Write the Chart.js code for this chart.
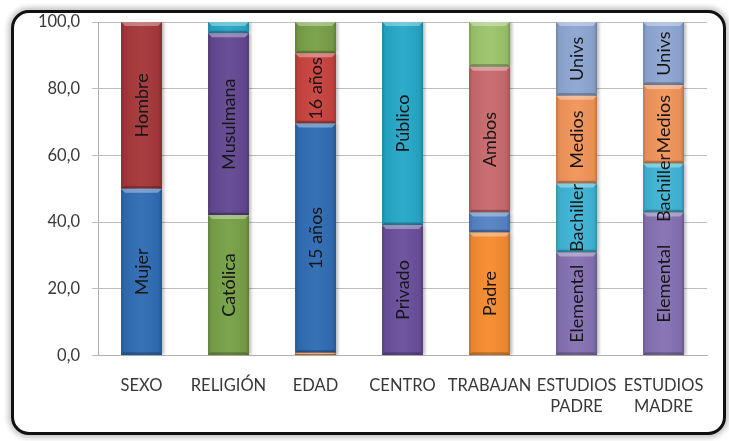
<!DOCTYPE html>
<html>
<head>
<meta charset="utf-8">
<script src="https://cdn.jsdelivr.net/npm/chart.js@4"></script>
<style>
  html, body { margin: 0; padding: 0; background: #fff; }
  #marco {
    position: absolute; left: 11px; top: 10px; width: 715px; height: 425px;
    box-sizing: border-box; border: 3px solid #111; border-radius: 18px;
    background: #fff; box-shadow: 0 0 5px 3px rgba(0,0,0,0.22);
  }
  #grafico { position: absolute; left: 0; top: 0; }
</style>
</head>
<body>
<div id="marco"></div>
<canvas id="grafico" width="729" height="441"></canvas>
<script>
// categorias del eje x
var categorias = ['SEXO', 'RELIGIÓN', 'EDAD', 'CENTRO', 'TRABAJAN', ['ESTUDIOS', 'PADRE'], ['ESTUDIOS', 'MADRE']];

// porcentajes por tramo, de abajo hacia arriba
var tramo1 = [50.0, 42.1, 0.8, 39.1, 36.9, 30.9, 42.9];
var tramo2 = [50.0, 54.5, 68.8, 60.9, 6.0, 20.7, 14.7];
var tramo3 = [0, 3.4, 21.0, 0, 43.7, 26.3, 23.5];
var tramo4 = [0, 0, 9.4, 0, 13.4, 22.1, 18.9];

// textos dentro de cada tramo
var etiq1 = ['Mujer', 'Católica', '', 'Privado', 'Padre', 'Elemental', 'Elemental'];
var etiq2 = ['Hombre', 'Musulmana', '15 años', 'Público', '', 'Bachiller', 'Bachiller'];
var etiq3 = ['', '', '16 años', '', 'Ambos', 'Medios', 'Medios'];
var etiq4 = ['', '', '', '', '', 'Univs', 'Univs'];

var colores1 = ['#2f6cb4', '#77a046', '#e8772a', '#6a4f9c', '#f68c2f', '#8571b3', '#8571b3'];
var colores2 = ['#a5373a', '#634892', '#2f6cb4', '#25a8c8', '#5583c4', '#3fb5d6', '#3fb5d6'];
var colores3 = ['#fff', '#27a6c6', '#c9433e', '#fff', '#c86a6c', '#f2955a', '#f2955a'];
var colores4 = ['#fff', '#fff', '#77a046', '#fff', '#9cc46c', '#8ea6d2', '#8ea6d2'];

var etiquetas = [etiq1, etiq2, etiq3, etiq4];

// sombra suave a la derecha de las barras
var sombra = {
  id: 'sombra',
  beforeDatasetDraw: function(chart) {
    var ctx = chart.ctx;
    ctx.save();
    ctx.shadowColor = 'rgba(0,0,0,0.28)';
    ctx.shadowOffsetX = 2;
    ctx.shadowOffsetY = 0;
    ctx.shadowBlur = 3;
  },
  afterDatasetDraw: function(chart) {
    chart.ctx.restore();
  }
};

// relieve de cada tramo y texto girado
var relieve = {
  id: 'relieve',
  afterDatasetsDraw: function(chart) {
    var ctx = chart.ctx;
    chart.data.datasets.forEach(function(ds, d) {
      var meta = chart.getDatasetMeta(d);
      meta.data.forEach(function(bar, i) {
        var p = bar.getProps(['x', 'y', 'base', 'width'], true);
        var izq = p.x - p.width / 2, der = p.x + p.width / 2;
        var arriba = Math.min(p.y, p.base), abajo = Math.max(p.y, p.base);
        var alto = abajo - arriba;
        if (alto < 0.5) return;
        var b = Math.min(4, alto / 2);
        ctx.save();
        // bordes laterales
        var g = ctx.createLinearGradient(izq, 0, der, 0);
        g.addColorStop(0, 'rgba(0,0,0,0.22)');
        g.addColorStop(0.07, 'rgba(0,0,0,0.05)');
        g.addColorStop(0.5, 'rgba(255,255,255,0.04)');
        g.addColorStop(0.93, 'rgba(0,0,0,0.05)');
        g.addColorStop(1, 'rgba(0,0,0,0.25)');
        ctx.fillStyle = g;
        ctx.fillRect(izq, arriba, der - izq, alto);
        // bisel superior
        ctx.fillStyle = 'rgba(255,255,255,0.35)';
        ctx.beginPath();
        ctx.moveTo(izq, arriba);
        ctx.lineTo(der, arriba);
        ctx.lineTo(der - b, arriba + b);
        ctx.lineTo(izq + b, arriba + b);
        ctx.closePath();
        ctx.fill();
        // bisel inferior
        ctx.fillStyle = 'rgba(0,0,0,0.22)';
        ctx.beginPath();
        ctx.moveTo(izq, abajo);
        ctx.lineTo(der, abajo);
        ctx.lineTo(der - b / 1.5, abajo - b / 1.5);
        ctx.lineTo(izq + b / 1.5, abajo - b / 1.5);
        ctx.closePath();
        ctx.fill();
        ctx.restore();

        var texto = etiquetas[d][i];
        if (!texto) return;
        ctx.save();
        ctx.translate(p.x, (arriba + abajo) / 2);
        ctx.rotate(-Math.PI / 2);
        ctx.font = '18px Lato';
        ctx.fillStyle = '#161616';
        ctx.textAlign = 'center';
        ctx.textBaseline = 'middle';
        ctx.fillText(texto, 0, 1);
        ctx.restore();
      });
    });
  }
};

function serie(datos, colores) {
  return {
    data: datos,
    backgroundColor: colores,
    borderWidth: 0,
    barPercentage: 0.47,
    categoryPercentage: 1
  };
}

new Chart(document.getElementById('grafico'), {
  type: 'bar',
  data: {
    labels: categorias,
    datasets: [
      serie(tramo1, colores1),
      serie(tramo2, colores2),
      serie(tramo3, colores3),
      serie(tramo4, colores4)
    ]
  },
  options: {
    responsive: false,
    animation: false,
    layout: { padding: { left: 0, right: 22, top: 22, bottom: 0 } },
    plugins: { legend: { display: false }, tooltip: { enabled: false } },
    scales: {
      x: {
        stacked: true,
        afterFit: function(s) { s.height = 85.5; },
        grid: { display: false, drawTicks: false },
        border: { color: '#b0b0b0', width: 1 },
        ticks: {
          color: '#383838',
          padding: 20,
          font: { family: 'Lato', size: 16.5, lineHeight: 1.27 },
          maxRotation: 0,
          autoSkip: false
        }
      },
      y: {
        stacked: true,
        min: 0,
        max: 100,
        afterFit: function(s) { s.width = 98; },
        grid: { color: '#bdbdbd', lineWidth: 1, drawTicks: true, tickLength: 6 },
        border: { color: '#b0b0b0', width: 1 },
        ticks: {
          stepSize: 20,
          color: '#383838',
          padding: 12,
          font: { family: 'Lato', size: 16.5 },
          callback: function(v) { return v.toFixed(1).replace('.', ','); }
        }
      }
    }
  },
  plugins: [sombra, relieve]
});
</script>
</body>
</html>
